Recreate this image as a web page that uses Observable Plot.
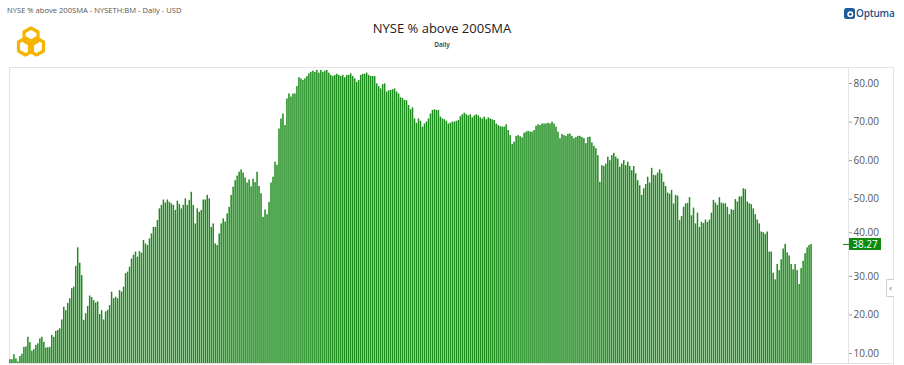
<!DOCTYPE html>
<html>
<head>
<meta charset="utf-8">
<script src="https://cdn.jsdelivr.net/npm/d3@7"></script>
<script src="https://cdn.jsdelivr.net/npm/@observablehq/plot@0.6"></script>
<style>
  html, body { margin: 0; padding: 0; background: #fff; }
  #wrap { position: relative; width: 904px; height: 365px; overflow: hidden; font-family: "Open Sans", sans-serif; }
  #wrap svg.plot { position: absolute; left: 0; top: 0; }
  .abs { position: absolute; white-space: nowrap; }
</style>
</head>
<body>
<div id="wrap">
  <div class="abs" id="sub" style="left:7px; top:5px; font-size:7.6px; color:#555;"></div>
  <div class="abs" id="title" style="left:0; width:884px; top:19px; text-align:center; font-size:13px; color:#222;"></div>
  <div class="abs" id="period" style="left:0; width:884px; top:40px; text-align:center; font-size:6.5px; font-weight:600; color:#333;"></div>
  <svg class="abs" style="left:14px; top:26px;" width="34" height="33" viewBox="0 0 34 33">
    <g fill="none" stroke="#f5b400" stroke-width="3.2" stroke-linejoin="round">
      <path d="M17 2 L24 6 L24 15 L17 19 L10 15 L10 6 Z"/>
      <path d="M11.5 12 L18.5 16 L18.5 25 L11.5 29 L4.5 25 L4.5 16 Z"/>
      <path d="M22.5 12 L29.5 16 L29.5 25 L22.5 29 L15.5 25 L15.5 16 Z"/>
    </g>
  </svg>
  <svg class="abs" style="left:844px; top:8px;" width="11" height="11" viewBox="0 0 11 11">
    <rect x="0" y="0" width="11" height="11" rx="2.5" fill="#1f5c99"/>
    <circle cx="6.3" cy="6.3" r="3" fill="#fff"/>
    <circle cx="6.3" cy="6.3" r="1.4" fill="#1f5c99"/>
  </svg>
  <div class="abs" id="brand" style="left:856px; top:6px; font-size:10px; font-weight:600; color:#1f4f86; letter-spacing:-0.2px;"></div>
  <div id="chart"></div>
</div>
<script>
// ---- data ----
const title = "NYSE % above 200SMA";
const subtitle = "NYSE % above 200SMA - NYSETH:BM - Daily - USD";
const period = "Daily";
const brand = "Optuma";
const yTicks = [10, 20, 30, 40, 50, 60, 70, 80];
const yDomain = [7.41, 84.15];
const emptySlots = 18;

const pctAbove = [
  8.4, 8.4, 9.7, 8.6, 7.8, 9.2, 9.8, 11.6, 11.7, 14.2,
  12.8, 10.6, 11.0, 12.1, 12.5, 13.8, 14.2, 12.9, 11.4, 11.5,
  11.6, 14.7, 14.2, 15.7, 16.0, 16.4, 18.7, 22.0, 21.1, 23.0,
  24.2, 26.8, 27.2, 32.6, 37.4, 33.4, 30.2, 18.6, 20.3, 22.2,
  24.9, 24.5, 23.7, 23.1, 23.4, 20.1, 21.1, 18.7, 20.8, 21.2,
  22.4, 25.9, 24.2, 24.6, 24.2, 26.3, 25.9, 27.2, 30.7, 31.1,
  32.4, 34.5, 35.5, 36.3, 35.0, 36.4, 36.0, 39.3, 38.4, 38.0,
  39.7, 41.0, 42.7, 42.7, 44.5, 47.5, 48.4, 49.8, 49.0, 49.8,
  49.2, 48.8, 48.4, 47.1, 49.5, 48.6, 47.5, 48.4, 50.1, 48.4,
  49.7, 51.8, 48.4, 43.6, 47.5, 46.6, 47.1, 49.8, 49.8, 51.0,
  50.1, 42.7, 43.6, 38.4, 38.0, 41.0, 43.6, 44.9, 44.1, 46.2,
  47.9, 51.0, 53.1, 54.8, 56.0, 57.0, 57.6, 56.8, 55.5, 54.2,
  55.0, 53.2, 55.2, 54.3, 57.0, 53.3, 51.4, 45.3, 47.2, 46.0,
  49.2, 54.2, 55.7, 59.6, 58.8, 68.2, 70.8, 72.1, 69.1, 76.0,
  77.3, 76.5, 77.3, 77.3, 79.2, 81.5, 81.2, 80.8, 81.2, 81.8,
  82.5, 82.9, 83.2, 82.9, 83.4, 82.7, 83.4, 82.9, 83.2, 83.4,
  82.7, 82.1, 81.8, 82.1, 82.4, 82.1, 81.8, 82.1, 81.5, 82.1,
  82.1, 82.5, 81.8, 81.2, 80.3, 80.8, 82.1, 82.4, 82.4, 82.7,
  82.1, 81.8, 81.8, 81.8, 79.9, 79.2, 78.6, 79.7, 79.9, 77.8,
  78.1, 78.2, 78.4, 78.6, 77.8, 77.3, 76.3, 76.1, 75.6, 75.5,
  74.3, 73.2, 73.7, 70.8, 69.7, 70.8, 70.2, 68.7, 69.5, 70.0,
  70.8, 72.1, 73.0, 73.2, 73.0, 73.0, 71.3, 70.8, 70.6, 70.2,
  69.5, 69.7, 70.0, 70.0, 70.2, 70.4, 71.4, 71.9, 72.3, 71.9,
  71.6, 71.9, 71.1, 71.6, 71.9, 71.6, 71.1, 70.8, 71.3, 70.6,
  71.1, 70.8, 70.6, 70.4, 69.5, 69.1, 68.8, 68.7, 68.7, 69.3,
  67.8, 66.5, 64.2, 64.8, 66.3, 66.5, 66.2, 65.9, 67.1, 67.4,
  67.6, 67.4, 67.4, 67.8, 68.9, 69.3, 69.1, 69.5, 69.5, 69.5,
  69.7, 69.5, 70.0, 69.5, 68.7, 67.4, 65.7, 66.8, 66.5, 66.3,
  66.8, 66.9, 66.3, 65.7, 66.0, 66.3, 66.3, 66.0, 65.7, 64.4,
  66.0, 66.1, 64.6, 63.7, 63.1, 61.3, 54.4, 58.7, 58.5, 59.1,
  60.9, 60.0, 61.3, 61.9, 60.9, 60.4, 58.3, 59.1, 60.0, 58.7,
  59.6, 58.5, 57.4, 58.5, 56.6, 54.8, 53.5, 51.0, 52.7, 53.8,
  55.7, 54.2, 58.0, 56.2, 56.1, 56.8, 57.6, 56.6, 54.4, 53.3,
  51.6, 51.3, 52.3, 48.8, 51.0, 50.8, 44.5, 45.5, 47.9, 48.8,
  48.9, 50.4, 45.7, 47.7, 43.6, 46.4, 42.7, 44.0, 43.7, 44.6,
  44.0, 44.6, 46.4, 49.7, 49.0, 48.4, 50.4, 49.0, 48.8, 48.8,
  47.9, 46.0, 47.3, 47.1, 49.9, 49.3, 50.6, 50.6, 52.7, 52.5,
  49.3, 48.8, 48.6, 47.5, 46.0, 44.6, 43.6, 41.5, 41.3, 40.9,
  41.5, 36.3, 36.3, 30.8, 29.1, 33.1, 31.5, 34.3, 37.1, 38.3,
  36.1, 35.3, 33.1, 31.7, 33.1, 31.5, 27.9, 32.0, 33.9, 35.9,
  37.4, 38.0, 38.27
];
const lastValue = pctAbove[pctAbove.length - 1];

document.getElementById("sub").textContent = subtitle;
document.getElementById("title").textContent = title;
document.getElementById("period").textContent = period;
document.getElementById("brand").textContent = brand;

const fmt = d3.format(".2f");
const plot = Plot.plot({
  width: 904,
  height: 365,
  marginTop: 67,
  marginBottom: 2,
  marginLeft: 9,
  marginRight: 56,
  style: { fontFamily: "Open Sans, sans-serif", fontSize: "10px", color: "#555", background: "transparent" },
  x: { domain: [0, pctAbove.length + emptySlots], axis: null },
  y: { domain: yDomain, axis: null },
  marks: [
    Plot.frame({ stroke: "#e4e4e4" }),
    Plot.rectY(pctAbove, {
      x1: (d, i) => i, x2: (d, i) => i + 1,
      y1: yDomain[0], y2: d => d,
      fill: "#1c8c1c", insetLeft: 0.2, insetRight: 0.3
    }),
    Plot.axisY({ anchor: "right", ticks: yTicks.filter(t => Math.abs(t - lastValue) > 3), tickFormat: fmt, tickSize: 3, tickPadding: 2, stroke: "#999", fill: "#555", label: null }),
    Plot.axisY({ anchor: "right", ticks: yTicks.filter(t => Math.abs(t - lastValue) <= 3), tickFormat: fmt, tickSize: 3, tickPadding: 2, stroke: "#999", fill: "#555", label: null, dy: -5 })
  ]
});
plot.classList.add("plot");
document.getElementById("chart").appendChild(plot);

const wrap = document.getElementById("wrap");
const yPos = plot.scale("y").apply(lastValue);
const line = (l, t, w, h, c) => {
  const d = document.createElement("div");
  d.className = "abs";
  Object.assign(d.style, { left: l + "px", top: t + "px", width: w + "px", height: h + "px", background: c });
  wrap.appendChild(d);
};
// right panel borders
line(848, 67, 46, 1, "#e4e4e4");
line(893, 67, 1, 298, "#e4e4e4");
line(848, 363, 46, 1, "#e4e4e4");
// last-value marker
line(843, Math.round(yPos), 7, 1, "#0f8a0f");
const tag = document.createElement("div");
tag.className = "abs";
Object.assign(tag.style, { left: "849px", top: (yPos - 5.5) + "px", width: "32px", height: "12px", background: "#0f8a0f",
  color: "#fff", fontSize: "10px", lineHeight: "12px", textAlign: "center" });
tag.textContent = fmt(lastValue);
wrap.appendChild(tag);
// collapse button
const btn = document.createElement("div");
btn.className = "abs";
Object.assign(btn.style, { left: "886px", top: "279px", width: "7px", height: "16px", border: "1px solid #cfcfcf", borderRight: "none",
  borderRadius: "2px 0 0 2px", background: "#fff", color: "#666", fontSize: "9px", lineHeight: "16px", textAlign: "center" });
btn.textContent = "‹";
wrap.appendChild(btn);
</script>
</body>
</html>
